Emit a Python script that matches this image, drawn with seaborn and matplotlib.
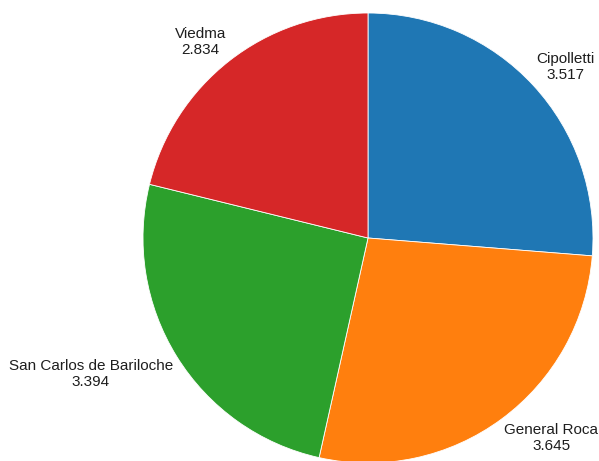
import matplotlib
matplotlib.use("Agg")
import numpy as np
import matplotlib.pyplot as plt
import seaborn as sns

ciudades = ["Cipolletti", "General Roca", "San Carlos de Bariloche", "Viedma"]
valores = [3.517, 3.645, 3.394, 2.834]

sns.set_style("white")
plt.rcParams["font.family"] = ["Liberation Sans", "DejaVu Sans"]
colores = sns.color_palette("tab10", 4)

fig = plt.figure(figsize=(5.99, 4.61), dpi=100)
ax = fig.add_axes([0, 0, 1, 1])

wedges, _ = ax.pie(valores, colors=colores, startangle=90, counterclock=False,
                   wedgeprops=dict(edgecolor="white", linewidth=0.6))

# etiquetas fuera: la esquina del texto más cercana al centro sobre el ángulo medio
for w, c, v in zip(wedges, ciudades, valores):
    ang = np.deg2rad((w.theta1 + w.theta2) / 2)
    x, y = 1.02 * np.cos(ang), 1.02 * np.sin(ang)
    ax.text(x, y, f"{c}\n{v:.3f}", fontsize=11, color="#1e1e1e",
            ha="left" if x > 0 else "right", va="bottom" if y > 0 else "top",
            multialignment="center", linespacing=1.2)

# centro del pie en (368, 238) px, radio 225 px
ax.set_xlim(-368 / 225, (599 - 368) / 225)
ax.set_ylim(-(461 - 238) / 225, 238 / 225)
ax.set_aspect("equal")
ax.axis("off")

fig.savefig("out.png", dpi=100)
